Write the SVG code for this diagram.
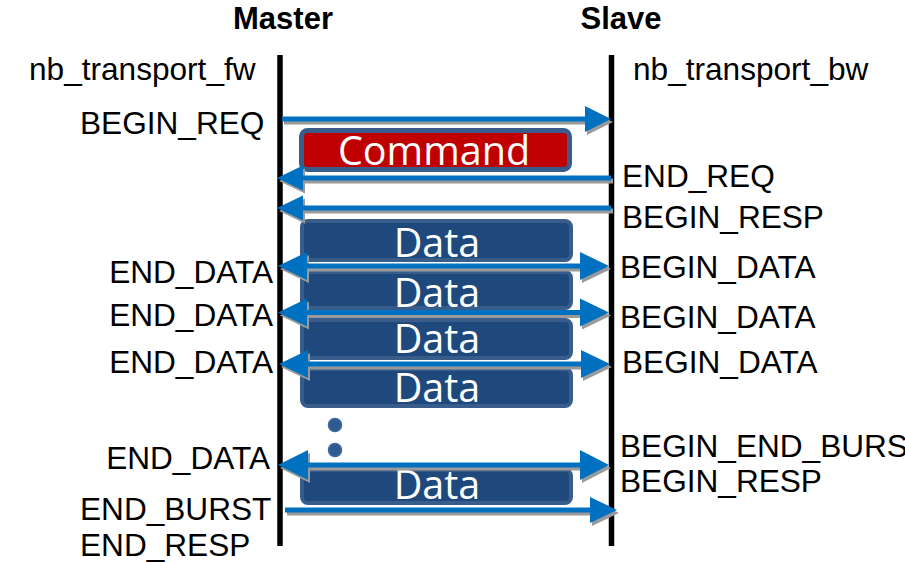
<svg xmlns="http://www.w3.org/2000/svg" xmlns:xlink="http://www.w3.org/1999/xlink" width="905" height="562" viewBox="0 0 905 562">
  <style>
    .lbl { font-family: "Liberation Sans", Arial, sans-serif; font-size: 31.6px; fill: #000; }
    .head { font-family: "Liberation Sans", Arial, sans-serif; font-size: 31px; font-weight: bold; fill: #000; }
    .life { stroke: #000; stroke-width: 5.5; }
    .box { fill: #1f497d; stroke: #385d8a; stroke-width: 4; }
    .cmd { fill: #c00000; stroke: #385d8a; stroke-width: 5; }
    .boxtxt { font-family: "Open Sans", "Noto Sans", sans-serif; font-size: 39.5px; fill: #fff; text-anchor: middle; }
    .arrow { fill: #0070c0; }
    .shadow { fill: #9a9a9a; }
    .dot { fill: #2e5a8f; stroke: #3d69a0; stroke-width: 1.5; }
  </style>
  <defs>
    <!-- arrow outlines: shaft 5px thick, triangular heads -->
    <polygon id="a-req" points="282,116.5 585,116.5 585,106 611,119 585,132 585,121.5 282,121.5"/>
    <polygon id="a-endreq" points="611,175.5 303,175.5 303,165.5 277,178 303,190.5 303,180.5 611,180.5"/>
    <polygon id="a-resp" points="611,205.5 303,205.5 303,195.5 277,208 303,220.5 303,210.5 611,210.5"/>
    <polygon id="a-d1" points="278,266 307,252 307,263.5 580,263.5 580,252 609,266 580,280 580,268.5 307,268.5 307,280"/>
    <polygon id="a-d2" points="278,312.5 307,298.5 307,310 580,310 580,298.5 609,312.5 580,326.5 580,315 307,315 307,326.5"/>
    <polygon id="a-d3" points="279,364 308,350 308,361.5 581,361.5 581,350 610,364 581,378 581,366.5 308,366.5 308,378"/>
    <polygon id="a-d4" points="278,465 308,450 308,462.5 580,462.5 580,450 609,465 580,480 580,467.5 308,467.5 308,480"/>
    <polygon id="a-burst" points="285,507.5 590,507.5 590,497 617,510 590,523 590,512.5 285,512.5"/>
  </defs>

  <!-- column headings -->
  <text class="head" x="283" y="29" text-anchor="middle">Master</text>
  <text class="head" x="621" y="29" text-anchor="middle">Slave</text>

  <!-- lifelines -->
  <g id="master-lifeline"><line class="life" x1="280" y1="55" x2="280" y2="546"/></g>
  <g id="slave-lifeline"><line class="life" x1="611.5" y1="55" x2="611.5" y2="546"/></g>

  <!-- payload boxes -->
  <g id="command">
    <rect class="cmd" x="301.5" y="130.5" width="268" height="39" rx="6"/>
    <text class="boxtxt" x="434" y="165" font-size="41.5px">Command</text>
  </g>
  <g id="data1">
    <rect class="box" x="302" y="221" width="269" height="39" rx="6"/>
    <text class="boxtxt" x="437" y="257">Data</text>
  </g>
  <g id="data2">
    <rect class="box" x="302" y="272" width="269" height="36" rx="6"/>
    <text class="boxtxt" x="437" y="307">Data</text>
  </g>
  <g id="data3">
    <rect class="box" x="302" y="320" width="269" height="38" rx="6"/>
    <text class="boxtxt" x="437" y="353">Data</text>
  </g>
  <g id="data4">
    <rect class="box" x="302" y="369" width="269" height="37" rx="6"/>
    <text class="boxtxt" x="437" y="402">Data</text>
  </g>
  <g id="ellipsis">
    <circle class="dot" cx="335" cy="425" r="6.5"/>
    <circle class="dot" cx="335" cy="450" r="6.5"/>
  </g>
  <g id="data5">
    <rect class="box" x="302" y="470" width="269" height="33" rx="6"/>
    <text class="boxtxt" x="437" y="499">Data</text>
  </g>

  <!-- phase transitions -->
  <g id="connectors">
    <use xlink:href="#a-req" class="shadow" transform="translate(2,3)"/>
    <use xlink:href="#a-req" class="arrow"/>
    <use xlink:href="#a-endreq" class="shadow" transform="translate(2,3)"/>
    <use xlink:href="#a-endreq" class="arrow"/>
    <use xlink:href="#a-resp" class="shadow" transform="translate(2,3)"/>
    <use xlink:href="#a-resp" class="arrow"/>
    <use xlink:href="#a-d1" class="shadow" transform="translate(2,3)"/>
    <use xlink:href="#a-d1" class="arrow"/>
    <use xlink:href="#a-d2" class="shadow" transform="translate(2,3)"/>
    <use xlink:href="#a-d2" class="arrow"/>
    <use xlink:href="#a-d3" class="shadow" transform="translate(2,3)"/>
    <use xlink:href="#a-d3" class="arrow"/>
    <use xlink:href="#a-d4" class="shadow" transform="translate(2,3)"/>
    <use xlink:href="#a-d4" class="arrow"/>
    <use xlink:href="#a-burst" class="shadow" transform="translate(2,3)"/>
    <use xlink:href="#a-burst" class="arrow"/>
  </g>

  <!-- master-side labels -->
  <g id="labels-fw">
    <text class="lbl" x="29" y="80">nb_transport_fw</text>
    <text class="lbl" x="80" y="134">BEGIN_REQ</text>
    <text class="lbl" x="273" y="283" text-anchor="end">END_DATA</text>
    <text class="lbl" x="273" y="326" text-anchor="end">END_DATA</text>
    <text class="lbl" x="273" y="373" text-anchor="end">END_DATA</text>
    <text class="lbl" x="270" y="469" text-anchor="end">END_DATA</text>
    <text class="lbl" x="80" y="520">END_BURST</text>
    <text class="lbl" x="80" y="556">END_RESP</text>
  </g>

  <!-- slave-side labels -->
  <g id="labels-bw">
    <text class="lbl" x="633" y="80">nb_transport_bw</text>
    <text class="lbl" x="622" y="187">END_REQ</text>
    <text class="lbl" x="622" y="228">BEGIN_RESP</text>
    <text class="lbl" x="620" y="278">BEGIN_DATA</text>
    <text class="lbl" x="620" y="328">BEGIN_DATA</text>
    <text class="lbl" x="622" y="373">BEGIN_DATA</text>
    <text class="lbl" x="620" y="457">BEGIN_END_BURST</text>
    <text class="lbl" x="620" y="492">BEGIN_RESP</text>
  </g>
</svg>
